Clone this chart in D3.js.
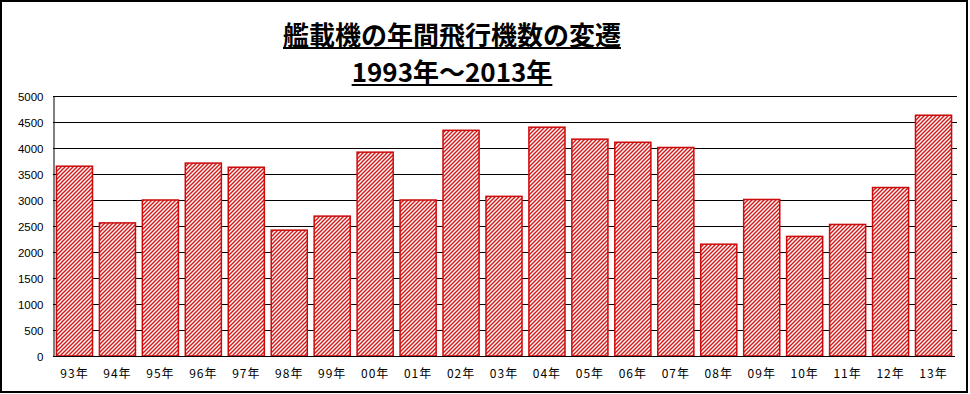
<!DOCTYPE html>
<html>
<head>
<meta charset="utf-8">
<script src="https://cdn.jsdelivr.net/npm/d3@7"></script>
<style>
  body { margin: 0; background: #fff; }
  svg { display: block; }
</style>
</head>
<body>
<svg id="chart"></svg>
<script>
// data
const years = ["93年", "94年", "95年", "96年", "97年", "98年", "99年", "00年", "01年", "02年", "03年",
    "04年", "05年", "06年", "07年", "08年", "09年", "10年", "11年", "12年", "13年"];
const flights = [3650, 2560, 3000, 3710, 3630, 2420, 2690, 3920, 3000, 4340, 3070,
    4400, 4170, 4110, 4010, 2150, 3010, 2300, 2530, 3240, 4630];
const yTicks = [0, 500, 1000, 1500, 2000, 2500, 3000, 3500, 4000, 4500, 5000];
const titleText = "艦載機の年間飛行機数の変遷";
const subTitleText = "1993年～2013年";

const width = 970, height = 394;
const plot = {left: 53, right: 955, top: 96, bottom: 356};

const svg = d3.select("#chart")
    .attr("width", width)
    .attr("height", height);

// hatch pattern for the bars
const defs = svg.append("defs");
const pat = defs.append("pattern")
    .attr("id", "hatch")
    .attr("patternUnits", "userSpaceOnUse")
    .attr("width", 4)
    .attr("height", 4);
pat.append("rect").attr("width", 4).attr("height", 4).attr("fill", "#fff");
pat.append("path")
    .attr("d", "M-1,1 l2,-2 M0,4 l4,-4 M3,5 l2,-2")
    .attr("stroke", "#d41c1c")
    .attr("stroke-width", 1.5);

// outer frame
svg.append("rect")
    .attr("x", 1).attr("y", 1)
    .attr("width", 966).attr("height", 391)
    .attr("fill", "none")
    .attr("stroke", "#000")
    .attr("stroke-width", 2);

const x = d3.scaleBand()
    .domain(years)
    .range([plot.left, plot.right])
    .paddingInner(0.16)
    .paddingOuter(0.08);

const y = d3.scaleLinear()
    .domain([0, 5000])
    .range([plot.bottom, plot.top]);

// gridlines
svg.append("g")
    .selectAll("line")
    .data(yTicks.filter(d => d > 0))
    .enter()
    .append("line")
    .attr("x1", plot.left)
    .attr("x2", plot.right + 2)
    .attr("y1", d => Math.round(y(d)) + 0.5)
    .attr("y2", d => Math.round(y(d)) + 0.5)
    .attr("stroke", "#000")
    .attr("stroke-width", 1);

// y axis
const yAxis = svg.append("g")
    .attr("transform", `translate(${plot.left + 0.5},0.5)`)
    .call(d3.axisLeft(y).tickValues(yTicks).tickFormat(d3.format("d")).tickSize(0).tickPadding(10));
yAxis.select(".domain").attr("stroke", "#000");
yAxis.selectAll("text")
    .attr("font-family", "'Liberation Sans', 'Noto Sans CJK JP', sans-serif")
    .attr("font-size", "11.5px")
    .attr("fill", "#000");

// bars
svg.append("g")
    .selectAll("rect")
    .data(flights)
    .enter()
    .append("rect")
    .attr("x", (d, i) => x(years[i]))
    .attr("y", d => y(d))
    .attr("width", x.bandwidth())
    .attr("height", d => plot.bottom - y(d))
    .attr("fill", "url(#hatch)")
    .attr("stroke", "#cc0a0a")
    .attr("stroke-width", 1.5);

// x axis
const xAxis = svg.append("g")
    .attr("transform", `translate(0,${plot.bottom + 0.5})`)
    .call(d3.axisBottom(x).tickSize(0).tickPadding(13));
xAxis.select(".domain").attr("stroke", "#000").attr("d", `M${plot.left},0H${plot.right}`);
xAxis.selectAll("text")
    .attr("font-family", "'Noto Sans CJK JP', sans-serif")
    .attr("font-size", "12px")
    .attr("letter-spacing", "1px")
    .attr("fill", "#000");

// titles
const cx = 452;
[[titleText, 45], [subTitleText, 82]].forEach(([t, yy]) => {
    const txt = svg.append("text")
        .attr("x", cx)
        .attr("y", yy)
        .attr("text-anchor", "middle")
        .attr("font-family", "'Noto Sans CJK JP', sans-serif")
        .attr("font-weight", "bold")
        .attr("font-size", "26px")
        .attr("fill", "#000")
        .text(t);
    const bb = txt.node().getBBox();
    svg.append("line")
        .attr("x1", bb.x).attr("x2", bb.x + bb.width)
        .attr("y1", yy + 3).attr("y2", yy + 3)
        .attr("stroke", "#000")
        .attr("stroke-width", 2);
});
</script>
</body>
</html>
